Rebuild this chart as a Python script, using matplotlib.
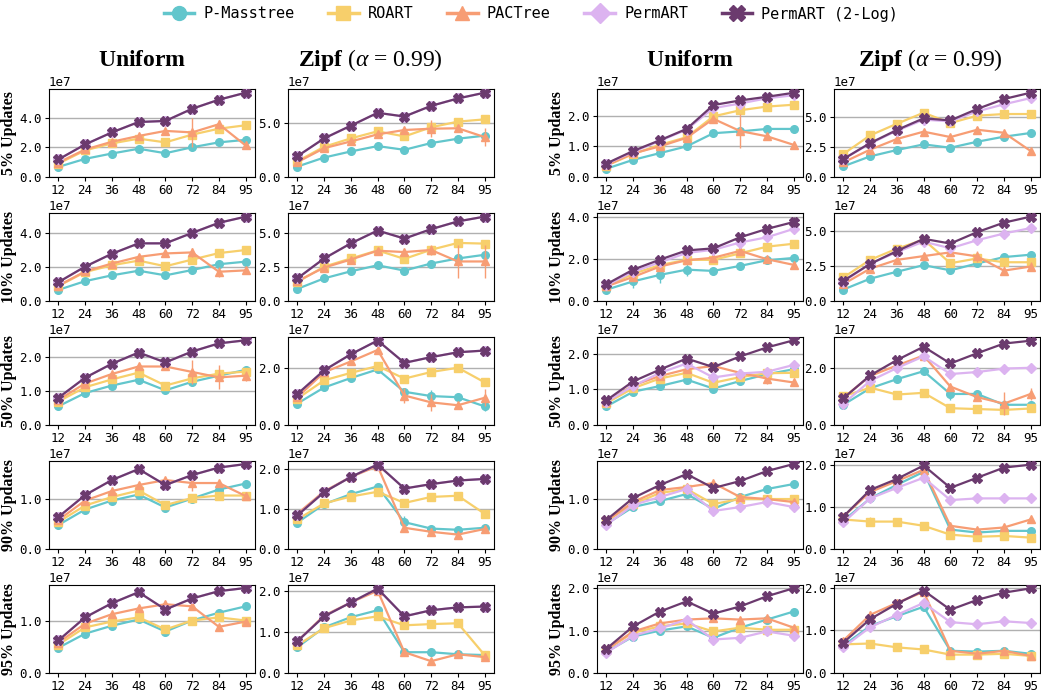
import matplotlib
matplotlib.use("Agg")
import matplotlib.pyplot as plt
from matplotlib.ticker import MaxNLocator, FormatStrFormatter
from matplotlib.lines import Line2D

plt.rcParams['mathtext.fontset'] = 'custom'
plt.rcParams['mathtext.rm'] = 'Liberation Serif'
plt.rcParams['mathtext.it'] = 'Liberation Serif:italic'
plt.rcParams['mathtext.bf'] = 'Liberation Serif:bold'

MONO = 'DejaVu Sans Mono'
SERIF = 'Liberation Serif'

# x categories (thread counts)
threads = ['12', '24', '36', '48', '60', '72', '84', '95']
row_labels = ['5% Updates', '10% Updates', '50% Updates', '90% Updates', '95% Updates']
col_titles = [r'$\mathbf{Uniform}$', r'$\mathbf{Zipf}$ ($\alpha$ = 0.99)',
              r'$\mathbf{Uniform}$', r'$\mathbf{Zipf}$ ($\alpha$ = 0.99)']

names = ['P-Masstree', 'ROART', 'PACTree', 'PermART', 'PermART (2-Log)']
colors = ['#62c6cc', '#f7cf6b', '#f79d74', '#dcb3f0', '#6b3a6e']
markers = ['o', 's', '^', 'D', 'X']

# throughput in units of 1e7 ops/s, indexed [row][column][thread]
p_masstree = [
    [[0.68, 1.22, 1.58, 1.90, 1.60, 2.00, 2.33, 2.50],
     [0.96, 1.79, 2.35, 2.84, 2.50, 3.12, 3.52, 3.80],
     [0.27, 0.56, 0.78, 1.00, 1.43, 1.49, 1.57, 1.57],
     [0.89, 1.72, 2.25, 2.72, 2.44, 2.94, 3.36, 3.67]],
    [[0.65, 1.16, 1.50, 1.77, 1.50, 1.81, 2.15, 2.30],
     [0.89, 1.66, 2.18, 2.62, 2.23, 2.75, 3.12, 3.39],
     [0.54, 0.94, 1.25, 1.50, 1.44, 1.68, 1.95, 2.06],
     [0.82, 1.60, 2.10, 2.57, 2.20, 2.69, 3.15, 3.32]],
    [[0.55, 0.94, 1.16, 1.33, 1.02, 1.27, 1.45, 1.62],
     [0.75, 1.31, 1.64, 1.94, 1.16, 1.01, 0.97, 0.65],
     [0.52, 0.93, 1.09, 1.27, 1.02, 1.23, 1.42, 1.56],
     [0.71, 1.29, 1.61, 1.89, 1.09, 1.09, 0.71, 0.71]],
    [[0.48, 0.79, 0.97, 1.09, 0.83, 1.01, 1.19, 1.31],
     [0.66, 1.12, 1.37, 1.56, 0.67, 0.51, 0.48, 0.53],
     [0.50, 0.84, 0.96, 1.10, 0.80, 1.04, 1.20, 1.30],
     [0.67, 1.20, 1.52, 1.83, 0.46, 0.39, 0.43, 0.43]],
    [[0.48, 0.75, 0.90, 1.02, 0.79, 1.00, 1.15, 1.27],
     [0.63, 1.12, 1.37, 1.54, 0.51, 0.51, 0.46, 0.44],
     [0.50, 0.86, 1.00, 1.10, 0.83, 1.07, 1.26, 1.45],
     [0.64, 1.10, 1.33, 1.55, 0.52, 0.50, 0.52, 0.45]],
]
roart = [
    [[0.90, 1.79, 2.26, 2.58, 2.33, 2.85, 3.25, 3.48],
     [1.45, 2.78, 3.55, 4.20, 3.73, 4.57, 5.09, 5.30],
     [0.37, 0.75, 1.05, 1.30, 1.98, 2.18, 2.30, 2.36],
     [1.92, 3.47, 4.44, 5.36, 4.50, 5.11, 5.25, 5.25]],
    [[0.87, 1.69, 2.09, 2.36, 2.03, 2.42, 2.80, 2.98],
     [1.39, 2.52, 3.12, 3.71, 3.09, 3.76, 4.26, 4.21],
     [0.70, 1.30, 1.72, 1.97, 1.97, 2.28, 2.60, 2.74],
     [1.69, 2.95, 3.75, 4.40, 2.71, 3.05, 2.78, 2.78]],
    [[0.69, 1.11, 1.34, 1.54, 1.16, 1.37, 1.51, 1.57],
     [0.92, 1.56, 1.82, 2.06, 1.62, 1.85, 2.00, 1.49],
     [0.61, 1.03, 1.30, 1.46, 1.18, 1.34, 1.45, 1.46],
     [1.01, 1.31, 1.07, 1.13, 0.59, 0.56, 0.53, 0.58]],
    [[0.54, 0.87, 1.04, 1.17, 0.88, 1.02, 1.07, 1.07],
     [0.74, 1.14, 1.31, 1.43, 1.15, 1.30, 1.33, 0.88],
     [0.56, 0.90, 1.12, 1.20, 0.90, 1.00, 1.00, 1.00],
     [0.70, 0.65, 0.65, 0.55, 0.34, 0.29, 0.31, 0.27]],
    [[0.54, 0.87, 0.98, 1.06, 0.83, 1.00, 1.06, 1.00],
     [0.68, 1.10, 1.29, 1.39, 1.17, 1.20, 1.22, 0.44],
     [0.55, 0.95, 1.10, 1.17, 0.98, 1.07, 1.02, 1.02],
     [0.67, 0.69, 0.60, 0.55, 0.43, 0.43, 0.45, 0.40]],
]
pactree = [
    [[0.97, 1.85, 2.37, 2.76, 3.10, 3.00, 3.55, 2.12],
     [1.36, 2.65, 3.27, 3.92, 4.32, 4.44, 4.48, 3.67],
     [0.38, 0.77, 1.00, 1.28, 1.90, 1.50, 1.33, 1.05],
     [1.22, 2.28, 3.17, 3.78, 3.33, 3.94, 3.69, 2.17]],
    [[0.90, 1.73, 2.19, 2.58, 2.78, 2.84, 1.71, 1.79],
     [1.46, 2.45, 3.04, 3.69, 3.59, 3.74, 2.90, 2.90],
     [0.70, 1.15, 1.65, 1.95, 2.07, 2.40, 2.00, 1.73],
     [1.21, 2.32, 2.95, 3.22, 3.49, 3.20, 2.18, 2.47]],
    [[0.74, 1.22, 1.50, 1.72, 1.72, 1.56, 1.40, 1.45],
     [0.97, 1.84, 2.22, 2.62, 1.03, 0.79, 0.69, 0.95],
     [0.65, 1.11, 1.37, 1.56, 1.65, 1.46, 1.30, 1.19],
     [0.96, 1.72, 2.09, 2.44, 1.35, 0.98, 0.75, 1.09]],
    [[0.58, 0.97, 1.16, 1.28, 1.38, 1.32, 1.32, 1.06],
     [0.88, 1.44, 1.80, 2.07, 0.53, 0.43, 0.36, 0.50],
     [0.56, 0.94, 1.18, 1.24, 1.32, 1.04, 1.00, 0.94],
     [0.77, 1.35, 1.61, 1.88, 0.55, 0.46, 0.51, 0.70]],
    [[0.58, 0.94, 1.12, 1.23, 1.31, 1.27, 0.88, 0.98],
     [0.78, 1.41, 1.73, 2.02, 0.51, 0.29, 0.46, 0.39],
     [0.55, 0.98, 1.17, 1.26, 1.29, 1.26, 1.29, 1.07],
     [0.76, 1.36, 1.64, 1.90, 0.52, 0.45, 0.52, 0.40]],
]
permart = [
    [[1.18, 2.19, 3.00, 3.70, 3.77, 4.59, 5.20, 5.67],
     [1.91, 3.55, 4.72, 5.90, 5.56, 6.54, 7.22, 7.75],
     [0.43, 0.82, 1.18, 1.55, 2.25, 2.40, 2.57, 2.67],
     [1.50, 2.78, 3.86, 4.78, 4.64, 5.47, 6.06, 6.58]],
    [[1.10, 2.01, 2.76, 3.37, 3.37, 3.98, 4.57, 4.93],
     [1.66, 3.12, 4.23, 5.17, 4.58, 5.27, 5.84, 6.19],
     [0.75, 1.40, 1.85, 2.30, 2.45, 2.80, 3.05, 3.45],
     [1.38, 2.66, 3.51, 4.26, 3.78, 4.36, 4.84, 5.23]],
    [[0.80, 1.39, 1.80, 2.13, 1.84, 2.16, 2.40, 2.49],
     [1.08, 1.91, 2.47, 2.95, 2.17, 2.37, 2.54, 2.60],
     [0.65, 1.09, 1.46, 1.72, 1.33, 1.44, 1.49, 1.68],
     [0.75, 1.55, 2.00, 2.41, 1.79, 1.86, 1.98, 2.01]],
    [[0.64, 1.08, 1.38, 1.60, 1.28, 1.48, 1.63, 1.70],
     [0.84, 1.42, 1.80, 2.11, 1.51, 1.62, 1.71, 1.75],
     [0.48, 0.88, 1.04, 1.20, 0.76, 0.84, 0.94, 0.84],
     [0.63, 1.20, 1.45, 1.69, 1.16, 1.20, 1.20, 1.20]],
    [[0.62, 1.06, 1.33, 1.54, 1.21, 1.42, 1.56, 1.62],
     [0.78, 1.39, 1.73, 2.07, 1.39, 1.54, 1.61, 1.63],
     [0.48, 0.88, 1.05, 1.26, 0.79, 0.83, 0.98, 0.88],
     [0.60, 1.07, 1.36, 1.64, 1.19, 1.14, 1.21, 1.17]],
]
permart_2log = [
    [[1.18, 2.19, 3.00, 3.70, 3.77, 4.59, 5.20, 5.67],
     [1.91, 3.55, 4.72, 5.90, 5.56, 6.54, 7.22, 7.75],
     [0.44, 0.85, 1.20, 1.57, 2.35, 2.50, 2.62, 2.75],
     [1.50, 2.83, 3.92, 4.89, 4.72, 5.67, 6.50, 7.03]],
    [[1.10, 2.01, 2.76, 3.37, 3.37, 3.98, 4.57, 4.93],
     [1.66, 3.12, 4.23, 5.17, 4.58, 5.27, 5.84, 6.19],
     [0.80, 1.50, 1.98, 2.42, 2.52, 3.05, 3.45, 3.78],
     [1.45, 2.66, 3.58, 4.46, 4.12, 4.94, 5.62, 6.05]],
    [[0.80, 1.39, 1.80, 2.13, 1.84, 2.16, 2.40, 2.49],
     [1.08, 1.91, 2.47, 2.95, 2.17, 2.37, 2.54, 2.60],
     [0.69, 1.22, 1.55, 1.86, 1.62, 1.92, 2.17, 2.37],
     [0.94, 1.74, 2.28, 2.75, 2.16, 2.52, 2.86, 2.96]],
    [[0.64, 1.08, 1.38, 1.60, 1.28, 1.48, 1.63, 1.70],
     [0.84, 1.42, 1.80, 2.11, 1.51, 1.62, 1.71, 1.75],
     [0.58, 1.02, 1.28, 1.50, 1.22, 1.36, 1.56, 1.70],
     [0.77, 1.40, 1.66, 1.98, 1.45, 1.69, 1.93, 2.00]],
    [[0.62, 1.06, 1.33, 1.54, 1.21, 1.42, 1.56, 1.62],
     [0.78, 1.39, 1.73, 2.07, 1.39, 1.54, 1.61, 1.63],
     [0.57, 1.10, 1.45, 1.69, 1.40, 1.57, 1.81, 2.00],
     [0.71, 1.26, 1.62, 1.93, 1.48, 1.71, 1.88, 1.98]],
]
series = [p_masstree, roart, pactree, permart, permart_2log]

# visible error bars: (row, col, series, thread index, +/- error in 1e7)
error_bars = [
    (0, 0, 2, 5, 1.0), (0, 0, 2, 6, 0.3), (0, 1, 2, 5, 0.8), (0, 1, 2, 6, 0.3),
    (0, 1, 2, 7, 0.8), (0, 2, 2, 5, 0.55), (0, 3, 2, 5, 0.2),
    (1, 0, 2, 5, 0.25), (1, 0, 2, 6, 0.3), (1, 0, 2, 7, 0.2), (1, 1, 2, 5, 0.4),
    (1, 1, 2, 6, 1.2), (1, 1, 2, 7, 1.2), (1, 2, 0, 0, 0.15), (1, 2, 0, 1, 0.3),
    (1, 2, 0, 2, 0.4), (1, 2, 0, 3, 0.3), (1, 2, 4, 7, 0.25), (1, 3, 2, 5, 0.4),
    (1, 3, 2, 6, 0.3), (1, 3, 2, 7, 0.3),
    (2, 0, 2, 5, 0.35), (2, 0, 2, 6, 0.35), (2, 0, 2, 7, 0.15), (2, 1, 2, 4, 0.25),
    (2, 1, 0, 5, 0.2), (2, 1, 2, 5, 0.3), (2, 1, 0, 7, 0.15), (2, 1, 2, 7, 0.3),
    (2, 2, 2, 6, 0.15), (2, 3, 0, 4, 0.2), (2, 3, 2, 6, 0.4), (2, 3, 2, 7, 0.2),
    (3, 0, 2, 5, 0.15), (3, 1, 0, 4, 0.15), (3, 3, 1, 1, 0.1),
    (4, 1, 2, 6, 0.1), (4, 3, 2, 1, 0.1),
]

W, H = 1041, 693
fig = plt.figure(figsize=(W / 100, H / 100), dpi=100)

col_left = [49, 288, 597, 834]
row_top = [89, 213, 337, 461, 585]
aw, ah = 206, 88

x = list(range(len(threads)))
for r in range(5):
    for c in range(4):
        ax = fig.add_axes([col_left[c] / W, 1 - (row_top[r] + ah) / H, aw / W, ah / H])
        for s in range(5):
            ax.plot(x, series[s][r][c], color=colors[s], marker=markers[s],
                    markersize=6.5 if s == 4 else 5.5, linewidth=1.6, zorder=2 + s)
        for (er, ec, es, ei, ev) in error_bars:
            if er == r and ec == c:
                ax.errorbar(x[ei], series[es][r][c][ei], yerr=ev, color=colors[es],
                            linewidth=1, capsize=0, zorder=2 + es)
        ax.set_ylim(bottom=0)
        ax.yaxis.set_major_locator(MaxNLocator(nbins=3, steps=[1, 2, 2.5, 5, 10]))
        ax.yaxis.set_major_formatter(FormatStrFormatter('%.1f'))
        ax.set_xticks(x)
        ax.set_xticklabels(threads)
        ax.grid(axis='y', color='#b0b0b0', linewidth=1, zorder=0)
        ax.set_axisbelow(True)
        for lab in ax.get_xticklabels() + ax.get_yticklabels():
            lab.set_fontfamily(MONO)
            lab.set_fontsize(9)
        ax.tick_params(length=3, pad=2)
        ax.text(0.0, 1.0, '1e7', transform=ax.transAxes, ha='left', va='bottom',
                fontfamily=MONO, fontsize=9)
        if c in (0, 2):
            ax.set_ylabel(row_labels[r], fontfamily=SERIF, fontweight='bold', fontsize=11.5)
            ax.yaxis.set_label_coords(-0.155, 0.5)

title_x = [142, 370, 690, 930]
for c in range(4):
    fig.text(title_x[c] / W, 1 - 60 / H, col_titles[c], ha='center', va='center',
             fontfamily=SERIF, fontsize=17)

handles = [Line2D([], [], color=colors[s], marker=markers[s], markersize=11 if s == 4 else 10,
                  linewidth=2.5) for s in range(5)]
fig.legend(handles, names, loc='center', bbox_to_anchor=(0.51, 1 - 14 / H), ncol=5,
           frameon=False, prop={'family': MONO, 'size': 11}, handlelength=2,
           columnspacing=2.2, handletextpad=0.6)

fig.savefig('out.png', dpi=100)
